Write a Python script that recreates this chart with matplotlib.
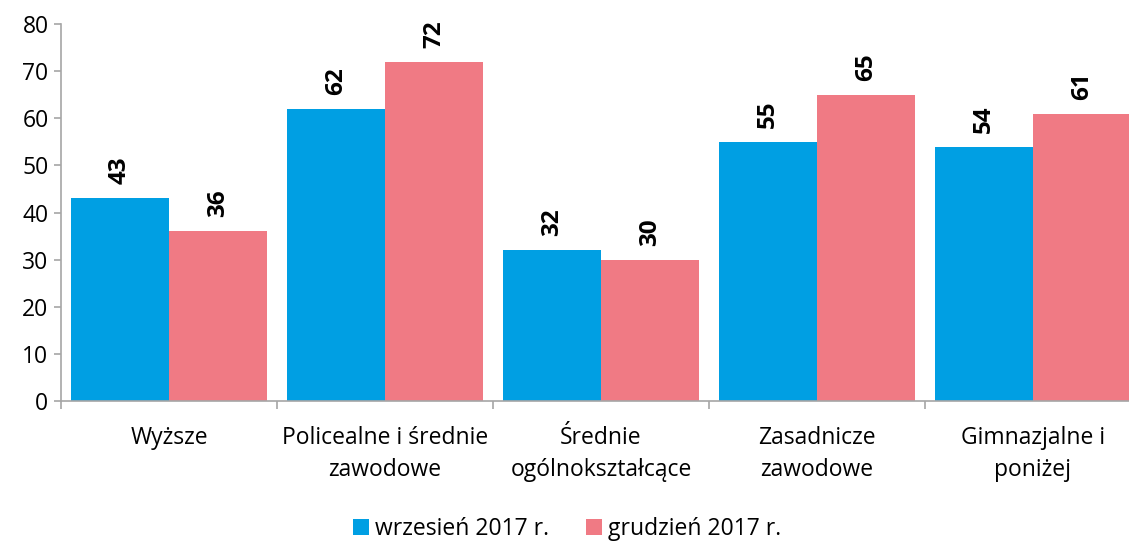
import matplotlib
matplotlib.use("Agg")
import matplotlib.pyplot as plt
import numpy as np

categories = ["Wyższe", "Policealne i średnie\nzawodowe", "Średnie\nogólnokształcące",
              "Zasadnicze\nzawodowe", "Gimnazjalne i\nponiżej"]
wrzesien = [43, 62, 32, 55, 54]
grudzien = [36, 72, 30, 65, 61]
series_names = ["wrzesień 2017 r.", "grudzień 2017 r."]

plt.rcParams['font.family'] = ['Open Sans', 'DejaVu Sans']

blue = "#009FE3"
pink = "#F07A84"
grey = "#A6A6A6"

fig = plt.figure(figsize=(11.29, 5.41), dpi=100)
ax = fig.add_axes([61 / 1129, 140 / 541, 1080 / 1129, 377 / 541])

x = np.arange(len(categories))
w = 0.4537
b1 = ax.bar(x - w / 2, wrzesien, w, color=blue, label=series_names[0])
b2 = ax.bar(x + w / 2, grudzien, w, color=pink, label=series_names[1])

for bars in (b1, b2):
    for r in bars:
        ax.annotate(f"{r.get_height():.0f}", (r.get_x() + r.get_width() / 2, r.get_height()),
                    xytext=(0, 10), textcoords="offset points", rotation=90,
                    ha="center", va="bottom", fontsize=17.5, fontweight="bold")

ax.set_xlim(-0.5, len(categories) - 0.5)
ax.set_ylim(0, 80)
ax.set_yticks(range(0, 81, 10))
ax.tick_params(axis="y", labelsize=16.5, length=5, color=grey, width=1.2, pad=4)
ax.set_xticks(np.arange(len(categories) + 1) - 0.5)
ax.set_xticklabels([])
ax.set_xticks(x, minor=True)
ax.set_xticklabels(categories, minor=True, fontsize=16.5, linespacing=1.45)
ax.tick_params(axis="x", which="major", length=6, color=grey, width=1.2)
ax.tick_params(axis="x", which="minor", length=0, pad=18)

for s in ("top", "right"):
    ax.spines[s].set_visible(False)
for s in ("left", "bottom"):
    ax.spines[s].set_color(grey)
    ax.spines[s].set_linewidth(1.2)

fig.legend(handles=[b1, b2], loc="center", bbox_to_anchor=(567 / 1129, 1 - 529 / 541),
           ncol=2, frameon=False, fontsize=16.5, handlelength=0.7, handleheight=0.7,
           handletextpad=0.25, columnspacing=1.6)

fig.savefig("out.png", dpi=100)
